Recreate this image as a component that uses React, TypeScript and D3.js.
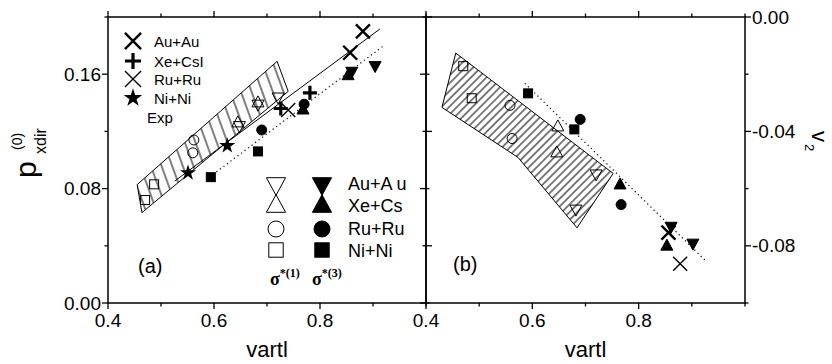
import React from 'react';
import * as d3 from 'd3';

type Pt = [number, number];

// ---- panel (a): p_xdir^(0) vs vartl ----
// experiment
const aAuAuExp: Pt[] = [[0.857, 0.175], [0.881, 0.19]];
const aXeCsExp: Pt[] = [[0.726, 0.136], [0.781, 0.147]];
const aRuRuExp: Pt[] = [[0.74, 0.135]];
const aNiNiExp: Pt[] = [[0.551, 0.091], [0.625, 0.11]];
// sigma*(1), open symbols
const aAuAuS1: Pt[] = [[0.648, 0.123], [0.683, 0.138], [0.721, 0.143]];
const aXeCsS1: Pt[] = [[0.645, 0.127], [0.683, 0.141]];
const aRuRuS1: Pt[] = [[0.56, 0.105], [0.562, 0.114]];
const aNiNiS1: Pt[] = [[0.47, 0.072], [0.487, 0.083]];
// sigma*(3), filled symbols
const aAuAuS3: Pt[] = [[0.86, 0.161], [0.904, 0.165]];
const aXeCsS3: Pt[] = [[0.768, 0.136], [0.853, 0.16]];
const aRuRuS3: Pt[] = [[0.69, 0.121], [0.77, 0.139]];
const aNiNiS3: Pt[] = [[0.594, 0.088], [0.683, 0.106]];
const aBand: Pt[] = [[0.455, 0.0828], [0.719, 0.169], [0.74, 0.148], [0.464, 0.0632]];
const aSolid: Pt[] = [[0.526, 0.0853], [0.913, 0.1916]];
const aDotted: Pt[] = [[0.598, 0.0898], [0.919, 0.1796]];

// ---- panel (b): v2 vs vartl ----
const bAuAuExp: Pt[] = [[0.856, -0.0754]];
const bRuRuExp: Pt[] = [[0.878, -0.0863]];
const bAuAuS1: Pt[] = [[0.682, -0.0677], [0.72, -0.0554]];
const bXeCsS1: Pt[] = [[0.646, -0.047], [0.648, -0.0379]];
const bRuRuS1: Pt[] = [[0.558, -0.0309], [0.562, -0.0425]];
const bNiNiS1: Pt[] = [[0.47, -0.0172], [0.486, -0.0284]];
const bAuAuS3: Pt[] = [[0.861, -0.0737], [0.902, -0.0796]];
const bXeCsS3: Pt[] = [[0.765, -0.0582], [0.853, -0.0796]];
const bRuRuS3: Pt[] = [[0.69, -0.0358], [0.767, -0.0656]];
const bNiNiS3: Pt[] = [[0.592, -0.0267], [0.679, -0.0393]];
const bBand: Pt[] = [[0.456, -0.0126], [0.752, -0.0547], [0.684, -0.0737], [0.573, -0.0491], [0.43, -0.0316]];
const bDotted: Pt[] = [[0.586, -0.0232], [0.928, -0.0856]];

// ticks
const xMajor = [0.4, 0.6, 0.8];
const xMinor = [0.5, 0.7, 0.9, 1.0];
const aYMajor = [0, 0.08, 0.16];
const aYMinor = [0.04, 0.12, 0.2];
const bYMajor = [0, -0.04, -0.08];
const bYMinor = [-0.02, -0.06, -0.1];

const topLegend = [
  { kind: 'xBold', label: 'Au+Au' },
  { kind: 'plus', label: 'Xe+CsI' },
  { kind: 'xThin', label: 'Ru+Ru' },
  { kind: 'star', label: 'Ni+Ni' },
];
const simLegend = [
  { open: 'tdOpen', fill: 'tdFill', label: 'Au+A u' },
  { open: 'tuOpen', fill: 'tuFill', label: 'Xe+Cs' },
  { open: 'cOpen', fill: 'cFill', label: 'Ru+Ru' },
  { open: 'sOpen', fill: 'sFill', label: 'Ni+Ni' },
];

const FONT = 'Liberation Sans, Arial, sans-serif';
const top = 17, bottom = 303;
const aLeft = 108, mid = 426, bRight = 745;

const xa = d3.scaleLinear().domain([0.4, 1.0]).range([aLeft, mid]);
const xb = d3.scaleLinear().domain([0.4, 1.0]).range([mid, bRight]);
const ya = d3.scaleLinear().domain([0, 0.2]).range([bottom, top]);
const yb = d3.scaleLinear().domain([-0.1, 0]).range([bottom, top]);

function mark(kind: string, cx: number, cy: number, s: number, key: string) {
  const k = 'k' + key;
  switch (kind) {
    case 'tdOpen':
    case 'tdFill': {
      const w = 6 * s, h = 5.5 * s;
      return <path key={k} d={`M${cx - w},${cy - h}L${cx + w},${cy - h}L${cx},${cy + h}Z`}
        fill={kind === 'tdFill' ? '#000' : 'none'} stroke="#000" strokeWidth={1} />;
    }
    case 'tuOpen':
    case 'tuFill': {
      const w = 6 * s, h = 5.5 * s;
      return <path key={k} d={`M${cx - w},${cy + h}L${cx + w},${cy + h}L${cx},${cy - h}Z`}
        fill={kind === 'tuFill' ? '#000' : 'none'} stroke="#000" strokeWidth={1} />;
    }
    case 'cOpen':
    case 'cFill':
      return <circle key={k} cx={cx} cy={cy} r={5 * s}
        fill={kind === 'cFill' ? '#000' : 'none'} stroke="#000" strokeWidth={1} />;
    case 'sOpen':
    case 'sFill':
      return <rect key={k} x={cx - 4.5 * s} y={cy - 4.5 * s} width={9 * s} height={9 * s}
        fill={kind === 'sFill' ? '#000' : 'none'} stroke="#000" strokeWidth={1} />;
    case 'xBold':
    case 'xThin': {
      const r = 7 * s;
      return <path key={k} d={`M${cx - r},${cy - r}L${cx + r},${cy + r}M${cx - r},${cy + r}L${cx + r},${cy - r}`}
        stroke="#000" strokeWidth={kind === 'xBold' ? 2.4 : 1.4} fill="none" />;
    }
    case 'plus': {
      const r = 7 * s;
      return <path key={k} d={`M${cx - r},${cy}L${cx + r},${cy}M${cx},${cy - r}L${cx},${cy + r}`}
        stroke="#000" strokeWidth={3.2} fill="none" />;
    }
    case 'star':
    default: {
      const d = d3.symbol().type(d3.symbolStar).size(80 * s * s)() as string;
      return <path key={k} d={d} transform={`translate(${cx},${cy})`} fill="#000" />;
    }
  }
}

const line = d3.line();

function series(pts: Pt[], kind: string, x: d3.ScaleLinear<number, number>, y: d3.ScaleLinear<number, number>, id: string) {
  return pts.map((p, i) => mark(kind, x(p[0]), y(p[1]), 1, id + i));
}

function frameTicks(x: d3.ScaleLinear<number, number>, y: d3.ScaleLinear<number, number>,
  yMaj: number[], yMin: number[], leftOut: boolean, rightOut: boolean, id: string) {
  const [x0, x1] = x.range();
  const out: JSX.Element[] = [];
  const tk = (v: number, len: number, vert: boolean, pos: number, dir: number, key: string) => {
    if (vert) out.push(<line key={key} x1={x(v)} x2={x(v)} y1={pos} y2={pos + dir * len} stroke="#000" strokeWidth={1.3} />);
    else out.push(<line key={key} y1={y(v)} y2={y(v)} x1={pos} x2={pos + dir * len} stroke="#000" strokeWidth={1.3} />);
  };
  xMajor.forEach((v, i) => { tk(v, 6, true, bottom, 1, id + 'bM' + i); tk(v, 6, true, top, -1, id + 'tM' + i); });
  xMinor.forEach((v, i) => { tk(v, 3.5, true, bottom, 1, id + 'bm' + i); tk(v, 3.5, true, top, -1, id + 'tm' + i); });
  yMaj.forEach((v, i) => {
    tk(v, 6, false, x0, leftOut ? -1 : 1, id + 'lM' + i);
    tk(v, 6, false, x1, rightOut ? 1 : -1, id + 'rM' + i);
  });
  yMin.forEach((v, i) => {
    tk(v, 3.5, false, x0, leftOut ? -1 : 1, id + 'lm' + i);
    tk(v, 3.5, false, x1, rightOut ? 1 : -1, id + 'rm' + i);
  });
  out.push(<rect key={id + 'frame'} x={x0} y={top} width={x1 - x0} height={bottom - top} fill="none" stroke="#000" strokeWidth={1.5} />);
  return out;
}

export default function App() {
  const aPath = (pts: Pt[]) => line(pts.map(p => [xa(p[0]), ya(p[1])] as [number, number])) as string;
  const bPath = (pts: Pt[]) => line(pts.map(p => [xb(p[0]), yb(p[1])] as [number, number])) as string;

  return (
    <svg width={832} height={364} style={{ position: 'absolute', left: 0, top: 0, background: '#fff' }} fontFamily={FONT}>
      <defs>
        <pattern id="hatchA" patternUnits="userSpaceOnUse" width={10} height={10} patternTransform="rotate(-20)">
          <line x1={5} y1={0} x2={5} y2={10} stroke="#000" strokeWidth={1} />
        </pattern>
        <pattern id="hatchB" patternUnits="userSpaceOnUse" width={5.5} height={10} patternTransform="rotate(45)">
          <line x1={2.75} y1={0} x2={2.75} y2={10} stroke="#000" strokeWidth={1} />
        </pattern>
      </defs>
      <rect x={0} y={0} width={832} height={364} fill="#fff" />

      {/* panel (a) */}
      <path d={aPath(aBand) + 'Z'} fill="url(#hatchA)" stroke="#000" strokeWidth={1} />
      <path d={aPath(aSolid)} stroke="#000" strokeWidth={1} fill="none" />
      <path d={aPath(aDotted)} stroke="#000" strokeWidth={1.2} strokeDasharray="1.2 3.2" fill="none" />
      {series(aNiNiS1, 'sOpen', xa, ya, 'a1')}
      {series(aRuRuS1, 'cOpen', xa, ya, 'a2')}
      {series(aXeCsS1, 'tuOpen', xa, ya, 'a3')}
      {series(aAuAuS1, 'tdOpen', xa, ya, 'a4')}
      {series(aNiNiS3, 'sFill', xa, ya, 'a5')}
      {series(aXeCsS3, 'tuFill', xa, ya, 'a6')}
      {series(aRuRuS3, 'cFill', xa, ya, 'a7')}
      {series(aAuAuS3, 'tdFill', xa, ya, 'a8')}
      {series(aNiNiExp, 'star', xa, ya, 'a9')}
      {series(aRuRuExp, 'xThin', xa, ya, 'a10')}
      {series(aXeCsExp, 'plus', xa, ya, 'a11')}
      {series(aAuAuExp, 'xBold', xa, ya, 'a12')}

      {/* panel (b) */}
      <path d={bPath(bBand) + 'Z'} fill="url(#hatchB)" stroke="#000" strokeWidth={1} />
      <path d={bPath(bDotted)} stroke="#000" strokeWidth={1.2} strokeDasharray="1.2 3.2" fill="none" />
      {series(bNiNiS1, 'sOpen', xb, yb, 'b1')}
      {series(bRuRuS1, 'cOpen', xb, yb, 'b2')}
      {series(bXeCsS1, 'tuOpen', xb, yb, 'b3')}
      {series(bAuAuS1, 'tdOpen', xb, yb, 'b4')}
      {series(bNiNiS3, 'sFill', xb, yb, 'b5')}
      {series(bXeCsS3, 'tuFill', xb, yb, 'b6')}
      {series(bRuRuS3, 'cFill', xb, yb, 'b7')}
      {series(bAuAuS3, 'tdFill', xb, yb, 'b8')}
      {series(bRuRuExp, 'xThin', xb, yb, 'b9')}
      {series(bAuAuExp, 'xBold', xb, yb, 'b10')}

      {frameTicks(xa, ya, aYMajor, aYMinor, true, false, 'fa')}
      {frameTicks(xb, yb, bYMajor, bYMinor, false, true, 'fb')}

      {/* tick labels */}
      {aYMajor.map(v => (
        <text key={'ay' + v} x={101} y={ya(v) + 6.5} fontSize={19} textAnchor="end">{d3.format('.2f')(v)}</text>
      ))}
      {bYMajor.map(v => (
        <text key={'by' + v} x={752} y={yb(v) + 6.5} fontSize={19} textAnchor="start">{v === 0 ? '0.00' : d3.format('.2f')(v).replace('−', '-')}</text>
      ))}
      {xMajor.map(v => (
        <text key={'ax' + v} x={xa(v)} y={327} fontSize={19} textAnchor="middle">{v.toFixed(1)}</text>
      ))}
      {xMajor.map(v => (
        <text key={'bx' + v} x={xb(v)} y={327} fontSize={19} textAnchor="middle">{v.toFixed(1)}</text>
      ))}

      {/* axis titles */}
      <text x={(aLeft + mid) / 2} y={357} fontSize={22} textAnchor="middle">vartl</text>
      <text x={(mid + bRight) / 2} y={357} fontSize={22} textAnchor="middle">vartl</text>
      <g transform="translate(36,178) rotate(-90)">
        <text x={0} y={0} fontSize={30}>p</text>
        <text x={24} y={10} fontSize={16}>xdir</text>
        <text x={28} y={-14} fontSize={14}>(0)</text>
      </g>
      <g transform="translate(812,131) rotate(90)">
        <text x={0} y={0} fontSize={22}>v</text>
        <text x={13} y={7} fontSize={13}>2</text>
      </g>

      {/* legend of experimental symbols */}
      {topLegend.map((d, i) => {
        const yy = [41, 61, 79, 98][i];
        return (
          <g key={'tl' + i}>
            {mark(d.kind, 133, yy, 1.15, 'tl' + i)}
            <text x={154} y={yy + 5.5} fontSize={15}>{d.label}</text>
          </g>
        );
      })}
      <text x={147} y={122.5} fontSize={15}>Exp</text>

      {/* legend of simulation symbols */}
      {simLegend.map((d, i) => {
        const yy = [186.5, 203.5, 229, 250][i];
        return (
          <g key={'sl' + i}>
            {mark(d.open, 276, yy, 1.6, 'slo' + i)}
            {mark(d.fill, 322, yy, 1.6, 'slf' + i)}
            <text x={348} y={[190, 212, 235, 257][i]} fontSize={18}>{d.label}</text>
          </g>
        );
      })}
      <text x={270} y={285} fontSize={18} fontWeight="bold" fontFamily="Liberation Serif, serif">
        σ<tspan fontSize={12} dy={-8}>*(1)</tspan>
      </text>
      <text x={312} y={285} fontSize={18} fontWeight="bold" fontFamily="Liberation Serif, serif">
        σ<tspan fontSize={12} dy={-8}>*(3)</tspan>
      </text>

      <text x={138} y={273} fontSize={20}>(a)</text>
      <text x={453} y={271} fontSize={20}>(b)</text>
    </svg>
  );
}
